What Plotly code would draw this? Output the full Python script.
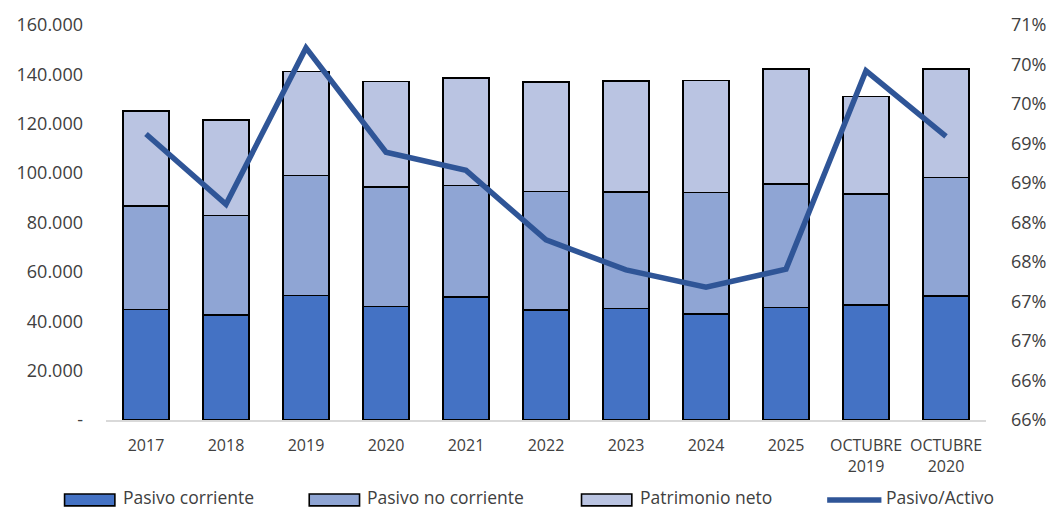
import plotly.graph_objects as go

categories = ["2017", "2018", "2019", "2020", "2021", "2022", "2023", "2024", "2025",
              "OCTUBRE<br>2019", "OCTUBRE<br>2020"]
pasivo_corriente = [44700, 42500, 50500, 45900, 49800, 44500, 45100, 42900, 45500, 46700, 50300]
pasivo_no_corriente = [41900, 40400, 48600, 48600, 45200, 48100, 47200, 49300, 50200, 44800, 47900]
patrimonio_neto = [38500, 38600, 42000, 42600, 43500, 44300, 45000, 45300, 46400, 39600, 43900]
pasivo_activo = [0.6912, 0.6823, 0.7021, 0.6889, 0.6866, 0.6778, 0.6740, 0.6718, 0.6741, 0.6992, 0.6909]

left_tickvals = [0, 20000, 40000, 60000, 80000, 100000, 120000, 140000, 160000]
left_ticktext = ["-", "20.000", "40.000", "60.000", "80.000", "100.000", "120.000", "140.000", "160.000"]
right_tickvals = [0.655, 0.66, 0.665, 0.67, 0.675, 0.68, 0.685, 0.69, 0.695, 0.70, 0.705]
right_ticktext = ["66%", "66%", "67%", "67%", "68%", "68%", "69%", "69%", "70%", "70%", "71%"]

names = ["Pasivo corriente", "Pasivo no corriente", "Patrimonio neto", "Pasivo/Activo"]
colors = ["#4472C4", "#8FA5D4", "#BAC4E2", "#2F5597"]
FONT = "Open Sans"
TXT = "#404040"

fig = go.Figure()
for vals, name, col in zip([pasivo_corriente, pasivo_no_corriente, patrimonio_neto], names[:3], colors[:3]):
    fig.add_trace(go.Bar(x=categories, y=vals, name=name, width=0.58,
                         marker=dict(color=col, line=dict(color="#000000", width=1.6)),
                         showlegend=False))
fig.add_trace(go.Scatter(x=categories, y=pasivo_activo, name=names[3], mode="lines",
                         line=dict(color=colors[3], width=5.5), yaxis="y2", showlegend=False))

X0, X1, YB, YT = 106, 998, 420, 20
def px(p):
    return (p - X0) / (X1 - X0)
def py(p):
    return (YB - p) / (YB - YT)

shapes = []
annotations = []
leg_y = 500
swatch_x = [64, 312, 588, 837]
text_x = [121, 369, 645, 895]
for i in range(4):
    if i < 3:
        shapes.append(dict(type="rect", xref="paper", yref="paper",
                           x0=px(swatch_x[i]), x1=px(swatch_x[i] + 51),
                           y0=py(leg_y - 5), y1=py(leg_y + 7),
                           fillcolor=colors[i], line=dict(color="#000000", width=1.6)))
    else:
        shapes.append(dict(type="line", xref="paper", yref="paper",
                           x0=px(swatch_x[i]), x1=px(swatch_x[i] + 55),
                           y0=py(leg_y + 1), y1=py(leg_y + 1),
                           line=dict(color=colors[i], width=5.5)))
    annotations.append(dict(text=names[i], xref="paper", yref="paper",
                            x=px(text_x[i]), y=py(leg_y - 2), xanchor="left", yanchor="middle",
                            showarrow=False, font=dict(family=FONT, size=17.5, color=TXT)))

fig.update_layout(
    width=1058, height=510,
    margin=dict(l=X0, r=1058 - X1, t=YT, b=510 - YB),
    paper_bgcolor="white", plot_bgcolor="white",
    barmode="stack",
    font=dict(family=FONT, color=TXT),
    xaxis=dict(type="category", showgrid=False, showline=True, linecolor="#D9D9D9", linewidth=1.5,
               tickfont=dict(size=16, color=TXT), ticks="", ticklabelstandoff=10,
               range=[-0.5, len(categories) - 0.5]),
    yaxis=dict(range=[0, 160000], tickvals=left_tickvals, ticktext=left_ticktext,
               showgrid=False, zeroline=False, showline=False, ticks="",
               tickfont=dict(size=18, color=TXT), ticklabelstandoff=22),
    yaxis2=dict(range=[0.655, 0.705], tickvals=right_tickvals, ticktext=right_ticktext,
                overlaying="y", side="right", showgrid=False, zeroline=False, showline=False,
                ticks="", tickfont=dict(size=18, color=TXT), ticklabelstandoff=24),
    shapes=shapes, annotations=annotations,
)

fig.write_html("out.html", config={"displayModeBar": False},
               post_script="document.body.style.margin='0';document.body.style.overflow='hidden';")
